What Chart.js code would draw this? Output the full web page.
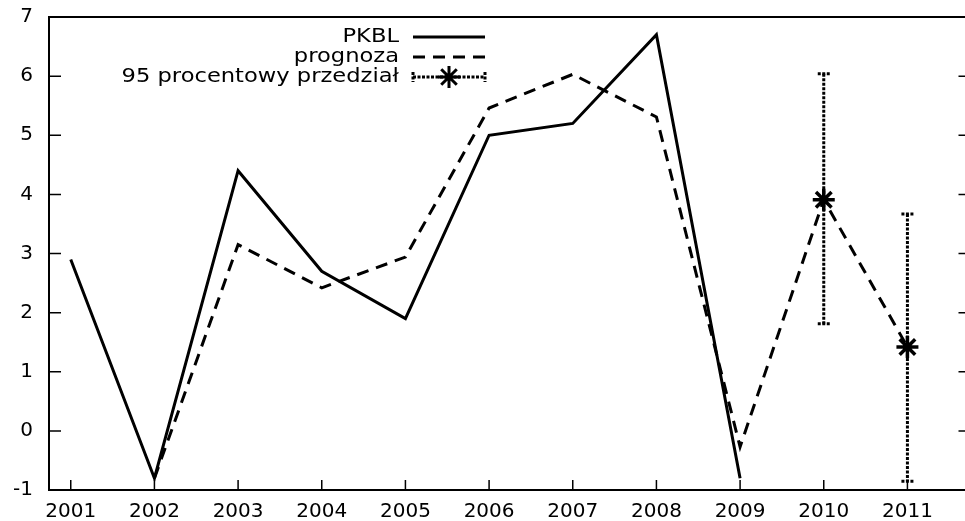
<!DOCTYPE html>
<html>
<head>
<meta charset="utf-8">
<script src="https://cdn.jsdelivr.net/npm/chart.js@4/dist/chart.umd.min.js"></script>
<style>
  html, body { margin: 0; padding: 0; background: #fff; overflow: hidden; }
  #wrap { width: 983px; height: 521px; }
</style>
</head>
<body>
<div id="wrap"><canvas id="chart" width="983" height="521"></canvas></div>
<script>
/* values */
const years = [2001, 2002, 2003, 2004, 2005, 2006, 2007, 2008, 2009, 2010, 2011];
const yTicks = [-1, 0, 1, 2, 3, 4, 5, 6, 7];
const pkbl = [2.9, -0.8, 4.4, 2.7, 1.9, 5.0, 5.2, 6.7, -0.8, null, null];
const prognoza = [null, -0.8, 3.15, 2.42, 2.94, 5.46, 6.03, 5.31, -0.27, 3.91, 1.42];
const intervalYears = [2010, 2011];
const intervalMid = [3.91, 1.42];
const intervalLow = [1.81, -0.85];
const intervalHigh = [6.04, 3.67];

const labels = ['PKBL', 'prognoza', '95 procentowy przedział'];
const FONT = '"DejaVu Sans", sans-serif';

const toPoints = (xs, ys) => xs.map((x, i) => ({ x, y: ys[i] }));

// error bars, drawn below the star markers
const errorBars = {
  id: 'errorBars',
  beforeDatasetsDraw(chart) {
    const { ctx, scales: { x, y } } = chart;
    ctx.save();
    ctx.strokeStyle = '#000';
    ctx.lineWidth = 3;
    ctx.setLineDash([3, 1.5]);
    intervalYears.forEach((yr, i) => {
      const px = x.getPixelForValue(yr);
      const top = y.getPixelForValue(intervalHigh[i]);
      const bot = y.getPixelForValue(intervalLow[i]);
      ctx.beginPath();
      ctx.moveTo(px, top);
      ctx.lineTo(px, bot);
      ctx.stroke();
      ctx.beginPath();
      ctx.moveTo(px - 6, top); ctx.lineTo(px + 6, top);
      ctx.moveTo(px - 6, bot); ctx.lineTo(px + 6, bot);
      ctx.stroke();
    });
    ctx.restore();
  }
};

// gnuplot style frame, inward ticks and legend
const frame = {
  id: 'frame',
  afterDraw(chart) {
    const { ctx, chartArea: a, scales: { x, y } } = chart;
    ctx.save();
    ctx.strokeStyle = '#000';
    ctx.lineWidth = 2;
    ctx.strokeRect(a.left, a.top, a.right - a.left, a.bottom - a.top);
    ctx.lineWidth = 1.5;
    ctx.beginPath();
    years.forEach(v => {
      const px = x.getPixelForValue(v);
      ctx.moveTo(px, a.bottom); ctx.lineTo(px, a.bottom - 10);
    });
    yTicks.forEach(v => {
      const py = y.getPixelForValue(v);
      ctx.moveTo(a.left, py); ctx.lineTo(a.left + 12, py);
      ctx.moveTo(a.right, py); ctx.lineTo(a.right - 10, py);
    });
    ctx.stroke();

    // legend: text right-aligned (slightly widened like the source), sample on the right
    const textRight = 399, x0 = 413, x1 = 485, rows = [37, 57, 77];
    ctx.font = '20px ' + FONT;
    ctx.fillStyle = '#000';
    ctx.textAlign = 'right';
    ctx.textBaseline = 'middle';
    labels.forEach((t, i) => {
      ctx.save();
      ctx.translate(textRight, rows[i]);
      ctx.scale(1.13, 1);
      ctx.fillText(t, 0, 0);
      ctx.restore();
    });

    ctx.lineWidth = 3;
    ctx.setLineDash([]);
    ctx.beginPath(); ctx.moveTo(x0, rows[0]); ctx.lineTo(x1, rows[0]); ctx.stroke();
    ctx.setLineDash([12, 8]);
    ctx.beginPath(); ctx.moveTo(x0, rows[1]); ctx.lineTo(x1, rows[1]); ctx.stroke();
    ctx.setLineDash([3, 1.5]);
    ctx.beginPath(); ctx.moveTo(x0, rows[2]); ctx.lineTo(x1, rows[2]); ctx.stroke();
    ctx.beginPath();
    ctx.moveTo(x0, rows[2] - 5); ctx.lineTo(x0, rows[2] + 5);
    ctx.moveTo(x1, rows[2] - 5); ctx.lineTo(x1, rows[2] + 5);
    ctx.stroke();
    ctx.setLineDash([]);
    Chart.helpers.drawPoint(ctx, { pointStyle: 'star', radius: 11, borderWidth: 3.5 }, (x0 + x1) / 2, rows[2]);
    ctx.restore();
  }
};

const noPad = s => { s.paddingTop = 0; s.paddingBottom = 0; s.paddingLeft = 0; s.paddingRight = 0; };

new Chart(document.getElementById('chart'), {
  type: 'line',
  data: {
    datasets: [
      {
        label: labels[0],
        data: toPoints(years, pkbl),
        borderColor: '#000',
        borderWidth: 3,
        pointRadius: 0,
        tension: 0
      },
      {
        label: labels[1],
        data: toPoints(years, prognoza),
        borderColor: '#000',
        borderWidth: 3,
        borderDash: [12, 8],
        pointRadius: 0,
        tension: 0
      },
      {
        label: labels[2],
        data: toPoints(intervalYears, intervalMid),
        showLine: false,
        pointStyle: 'star',
        pointRadius: 11,
        pointBorderWidth: 3.5,
        pointBorderColor: '#000',
        pointBackgroundColor: '#000'
      }
    ]
  },
  options: {
    responsive: false,
    animation: false,
    devicePixelRatio: 1,
    layout: { padding: { top: 17, right: 4, left: 0, bottom: 0 } },
    plugins: { legend: { display: false }, tooltip: { enabled: false } },
    scales: {
      x: {
        type: 'linear',
        min: 2000.74,
        max: 2011.73,
        afterBuildTicks: s => { s.ticks = years.map(v => ({ value: v })); },
        afterFit: s => { s.height = 31; noPad(s); },
        grid: { display: false, drawTicks: false },
        border: { display: false },
        ticks: { color: '#000', font: { family: FONT, size: 20 }, padding: 10, callback: v => String(v) }
      },
      y: {
        min: -1,
        max: 7,
        afterBuildTicks: s => { s.ticks = yTicks.map(v => ({ value: v })); },
        afterFit: s => { s.width = 49; noPad(s); },
        grid: { display: false, drawTicks: false },
        border: { display: false },
        ticks: { color: '#000', font: { family: FONT, size: 20 }, padding: 16 }
      }
    }
  },
  plugins: [errorBars, frame]
});
</script>
</body>
</html>
